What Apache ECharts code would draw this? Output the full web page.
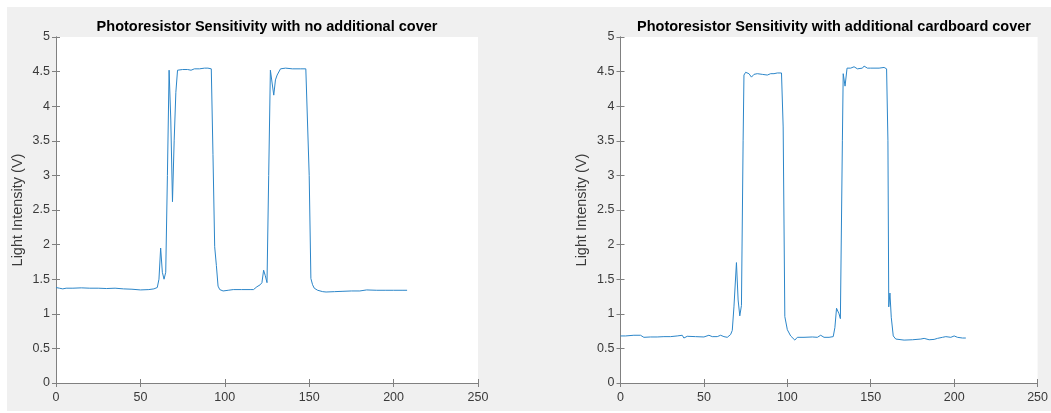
<!DOCTYPE html>
<html>
<head>
<meta charset="utf-8">
<script src="https://cdn.jsdelivr.net/npm/echarts@6/dist/echarts.min.js"></script>
<style>
  html, body { margin: 0; padding: 0; background: #fff; }
  #chart { width: 1051px; height: 413px; }
</style>
</head>
<body>
<div id="chart"></div>
<script>
// 无遮盖 (no cover)
const noCoverX = [0, 2, 4, 6, 10, 15, 20, 25, 30, 35, 40, 45, 50, 55, 58, 60, 61, 62, 63, 64, 65, 66, 67, 68, 69, 70, 71, 72, 75, 78, 80, 82, 85, 88, 90, 91, 92, 93, 94, 95, 96, 97, 99, 102, 105, 110, 115, 117, 119, 121, 122, 123, 124, 125, 126, 127, 128, 129, 130, 131, 133, 136, 140, 145, 148, 149, 150, 151, 152, 153, 155, 158, 160, 165, 170, 175, 180, 184, 185, 190, 195, 200, 205, 208];
const noCoverY = [1.38, 1.37, 1.36, 1.37, 1.37, 1.375, 1.37, 1.37, 1.365, 1.37, 1.36, 1.355, 1.345, 1.35, 1.36, 1.38, 1.5, 1.95, 1.6, 1.5, 1.6, 3.0, 4.52, 3.8, 2.62, 3.5, 4.2, 4.52, 4.53, 4.53, 4.52, 4.54, 4.54, 4.55, 4.55, 4.56, 4.54, 3.3, 1.97, 1.7, 1.4, 1.35, 1.33, 1.34, 1.35, 1.35, 1.35, 1.35, 1.39, 1.42, 1.45, 1.63, 1.55, 1.45, 3.0, 4.52, 4.5, 4.16, 4.38, 4.45, 4.54, 4.55, 4.54, 4.54, 4.54, 4.53, 3.0, 1.51, 1.42, 1.37, 1.34, 1.32, 1.315, 1.32, 1.325, 1.33, 1.33, 1.345, 1.33, 1.34, 1.34, 1.34, 1.34, 1.34];

// 纸板遮盖 (cardboard cover)
const cardX = [0, 3, 8, 12, 14, 18, 22, 26, 30, 34, 37, 38, 40, 45, 50, 53, 55, 58, 60, 62, 64, 66, 67, 68, 69.5, 70.5, 71.5, 72.5, 73.5, 74, 75, 77, 78.5, 80, 82, 85, 86, 88, 90, 92, 94, 96.5, 97.5, 98.5, 100, 102, 104.5, 106, 110, 115, 118, 120, 122, 125, 127.5, 128.5, 129.5, 131, 131.8, 133, 133.5, 134.6, 135.8, 138, 140, 142, 145, 146, 148, 150, 155, 158, 159.5, 160.3, 160.8, 161.5, 162.3, 163.5, 165, 170, 175, 180, 182, 185, 188, 190, 193, 195, 198, 200, 202, 205, 207];
const cardY = [0.68, 0.68, 0.69, 0.69, 0.66, 0.665, 0.665, 0.67, 0.67, 0.68, 0.69, 0.65, 0.675, 0.67, 0.665, 0.69, 0.67, 0.67, 0.69, 0.67, 0.66, 0.7, 0.76, 1.1, 1.74, 1.2, 0.97, 1.12, 3.5, 4.45, 4.49, 4.47, 4.42, 4.46, 4.47, 4.46, 4.47, 4.45, 4.47, 4.47, 4.48, 4.48, 3.7, 0.96, 0.77, 0.68, 0.62, 0.66, 0.66, 0.665, 0.66, 0.69, 0.66, 0.66, 0.67, 0.8, 1.08, 1.0, 0.93, 3.5, 4.47, 4.29, 4.55, 4.55, 4.57, 4.54, 4.55, 4.58, 4.55, 4.55, 4.55, 4.56, 4.54, 3.5, 1.1, 1.3, 0.95, 0.68, 0.635, 0.62, 0.625, 0.635, 0.645, 0.625, 0.63, 0.645, 0.66, 0.67, 0.66, 0.68, 0.66, 0.65, 0.65];

const titles = ["Photoresistor Sensitivity with no additional cover", "Photoresistor Sensitivity with additional cardboard cover"];
const yName = "Light Intensity (V)";

function pairs(xs, ys) {
  return xs.map(function(x, i) { return [x, ys[i]]; });
}

const font = '"Liberation Sans", Arial, Helvetica, sans-serif';
const grids = [
  { left: 56, top: 37, width: 422, height: 346 },
  { left: 620.5, top: 37, width: 427, height: 346 }
];

let xAxes = [], yAxes = [];
grids.forEach(function(g, i) {
  const line = { show: true, lineStyle: { color: "#808080", width: 1 } };
  const tick = { show: true, inside: true, length: 4, lineStyle: { color: "#808080" } };
  // 下方 / 上方 x 轴
  xAxes.push({
    type: "value", gridIndex: i, min: 0, max: 250, interval: 50, position: "bottom",
    axisLine: line, axisTick: tick, splitLine: { show: false },
    axisLabel: { color: "#3a3a3a", fontSize: 12.5, fontFamily: font, margin: 8 }
  });
  xAxes.push({
    type: "value", gridIndex: i, min: 0, max: 250, interval: 50, position: "top",
    axisLine: line, axisTick: tick, splitLine: { show: false }, axisLabel: { show: false }
  });
  // 左 / 右 y 轴
  yAxes.push({
    type: "value", gridIndex: i, min: 0, max: 5, interval: 0.5, position: "left",
    name: yName, nameLocation: "middle", nameGap: 31, nameRotate: 90,
    nameTextStyle: { color: "#3a3a3a", fontSize: 14.5, fontFamily: font },
    axisLine: line, axisTick: tick, splitLine: { show: false },
    axisLabel: { color: "#3a3a3a", fontSize: 12.5, fontFamily: font, margin: 6 }
  });
  yAxes.push({
    type: "value", gridIndex: i, min: 0, max: 5, interval: 0.5, position: "right",
    axisLine: line, axisTick: tick, splitLine: { show: false }, axisLabel: { show: false }
  });
});

var myChart = echarts.init(document.getElementById("chart"));
myChart.setOption({
  animation: false,
  backgroundColor: "#fff",
  graphic: [
    { type: "rect", z: -10, shape: { x: 7, y: 7, width: 1044, height: 404 }, style: { fill: "#f0f0f0" } }
  ],
  title: [
    { text: titles[0], left: 267, top: 19, padding: 0, textAlign: "center",
      textStyle: { fontSize: 14.5, fontWeight: "bold", color: "#000", fontFamily: font } },
    { text: titles[1], left: 834, top: 19, padding: 0, textAlign: "center",
      textStyle: { fontSize: 14.5, fontWeight: "bold", color: "#000", fontFamily: font } }
  ],
  grid: grids.map(function(g) {
    return Object.assign({ show: true, backgroundColor: "#fff", borderWidth: 0, containLabel: false }, g);
  }),
  xAxis: xAxes,
  yAxis: yAxes,
  series: [
    {
      type: "line", xAxisIndex: 0, yAxisIndex: 0, data: pairs(noCoverX, noCoverY),
      showSymbol: false, lineStyle: { color: "#2c86c9", width: 1 }
    },
    {
      type: "line", xAxisIndex: 2, yAxisIndex: 2, data: pairs(cardX, cardY),
      showSymbol: false, lineStyle: { color: "#2c86c9", width: 1 }
    }
  ]
});
</script>
</body>
</html>
